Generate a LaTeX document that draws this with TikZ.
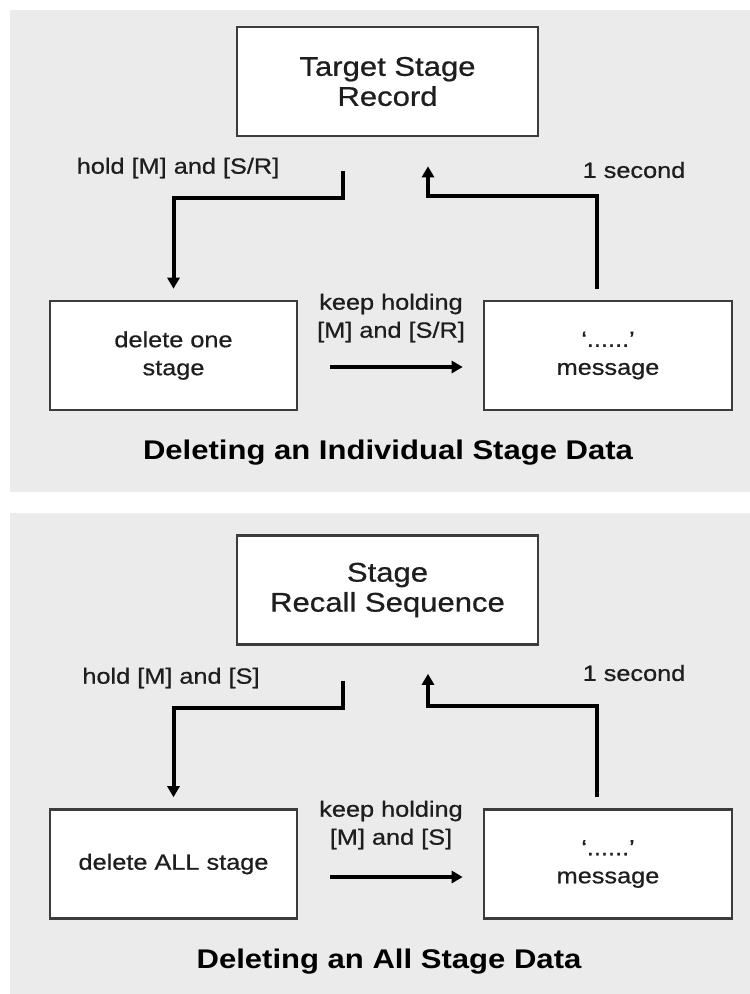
\documentclass[tikz,border=0pt]{standalone}
\usepackage{fontspec}
\setmainfont[FakeStretch=1.15, UprightFeatures={FakeBold=0.7}]{Liberation Sans}
\usetikzlibrary{arrows.meta}
\definecolor{panelgray}{HTML}{EBEBEB}
\definecolor{boxline}{HTML}{3C3C3C}
\definecolor{ink}{HTML}{1E1E1E}
\begin{document}
\begin{tikzpicture}[x=1pt,y=-1pt,
  box/.style={draw=boxline, line width=2.6pt, fill=white, minimum height=109pt,
    align=center, inner sep=0pt, font=\fontsize{22}{28}\selectfont, text=ink},
  headbox/.style={box, minimum width=301pt, font=\fontsize{27}{30}\selectfont},
  sidebox/.style={box, minimum width=247pt},
  lbl/.style={align=center, inner sep=0pt, font=\fontsize{22}{28}\selectfont, text=ink},
  ttl/.style={inner sep=0pt, font=\bfseries\fontsize{27}{30}\selectfont, text=black},
  conn/.style={line width=4pt, draw=black, -{Triangle[length=11pt,width=12pt]}}
]
\useasboundingbox (0,0) rectangle (750,994);
\fill[panelgray] (10,10) rectangle (750,492);
\fill[panelgray] (10,513) rectangle (750,994);

% ---------- panel 1 ----------
\node[headbox] (t1) at (387.5,81.5) {Target Stage\\Record};
\node[sidebox] (l1) at (173.5,355.5) {delete one\\stage};
\node[sidebox, minimum width=248pt] (r1) at (608,355.5) {`......'\\message};
\node[lbl] (h1) at (178,168) {hold [M] and [S/R]};
\node[lbl] (s1) at (634,170) {1 second};
\node[lbl] (k1) at (391,318) {keep holding\\{[M] and [S/R]}};
\node[ttl] (T1) at (388,453) {Deleting an Individual Stage Data};

\draw[conn, shorten <=34pt, shorten >=11pt] ([xshift=-44.5pt]t1.south) -- ++(0,61) -| (l1.north);
\draw[conn, shorten <=11pt, shorten >=29pt] ([xshift=-11pt]r1.north) -- ++(0,-104) -| ([xshift=40.5pt]t1.south);
\draw[conn, shorten <=32pt, shorten >=20pt] ([yshift=-11.5pt]l1.east) -- ([yshift=-11.5pt]r1.west);

% ---------- panel 2 ----------
\node[headbox] (t2) at (387.5,590) {Stage\\Recall Sequence};
\node[sidebox] (l2) at (173.5,864) {delete ALL stage};
\node[sidebox, minimum width=248pt] (r2) at (608,864) {`......'\\message};
\node[lbl] (h2) at (171,678) {hold [M] and [S]};
\node[lbl] (s2) at (634,673) {1 second};
\node[lbl] (k2) at (391,825) {keep holding\\{[M] and [S]}};
\node[ttl] (T2) at (389,962) {Deleting an All Stage Data};

\draw[conn, shorten <=35pt, shorten >=11pt] ([xshift=-44.5pt]t2.south) -- ++(0,62) -| (l2.north);
\draw[conn, shorten <=11pt, shorten >=28pt] ([xshift=-11pt]r2.north) -- ++(0,-102) -| ([xshift=40.5pt]t2.south);
\draw[conn, shorten <=32pt, shorten >=20pt] ([yshift=-13pt]l2.east) -- ([yshift=-13pt]r2.west);
\end{tikzpicture}
\end{document}
